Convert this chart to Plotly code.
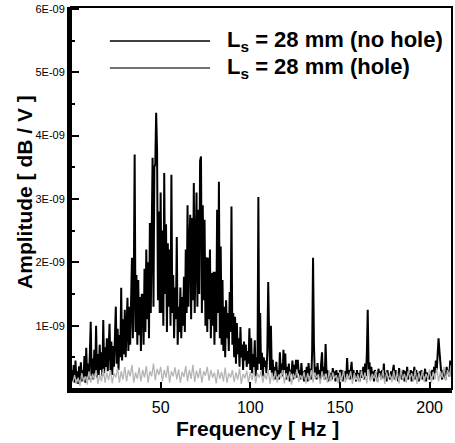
import numpy as np
import plotly.graph_objects as go

# ---------------- data (amplitude in units of 1E-09) ----------------
freq_nohole = np.arange(1, 425) * 0.5  # 0.5 .. 212.0 Hz
amp_nohole = [
    0.30,0.12,0.38,0.10,0.45,0.15,0.28,0.08,0.36,0.14,
    0.42,0.12,0.30,0.18,0.52,0.10,0.65,0.20,0.40,0.15,
    0.55,1.06,0.20,0.48,0.15,0.62,0.25,1.00,0.18,0.55,
    0.22,0.70,0.30,0.58,0.20,1.09,0.25,0.66,0.35,0.80,
    0.28,0.62,1.03,0.30,0.75,0.22,0.68,0.35,0.90,1.30,
    0.40,0.95,0.30,0.85,0.50,1.60,0.45,1.10,0.55,1.25,
    0.50,1.05,1.44,0.60,1.30,0.70,1.50,2.07,0.80,1.55,
    3.70,0.90,1.80,0.70,1.72,0.85,1.45,0.60,1.50,1.48,
    0.70,1.90,0.90,2.20,1.10,2.00,0.80,2.62,1.20,3.00,
    3.65,1.30,3.50,3.55,4.36,3.78,1.40,2.80,1.20,3.10,
    1.20,2.50,1.00,3.41,1.50,2.60,0.90,2.30,1.30,2.20,
    1.00,3.38,1.20,1.80,0.80,1.60,1.10,2.40,0.70,1.30,
    0.90,1.60,0.80,1.45,1.00,1.77,0.90,2.20,1.20,2.90,
    1.30,2.30,2.75,1.10,2.70,1.40,3.25,1.20,2.70,3.10,
    1.30,2.83,1.50,3.60,3.67,1.20,2.90,1.40,2.67,1.00,
    2.08,0.90,2.07,1.10,2.20,0.80,1.83,1.00,1.85,0.70,
    1.85,0.90,2.83,1.20,3.27,0.80,2.25,0.70,1.72,0.60,
    1.30,0.50,1.40,0.80,1.20,0.60,1.53,0.90,2.88,0.70,
    1.20,0.50,1.14,0.40,1.04,0.55,0.80,0.35,0.98,0.50,
    0.70,0.30,0.75,0.45,0.70,0.35,0.60,0.40,0.96,0.30,
    0.80,0.25,0.55,0.35,0.77,0.20,0.50,0.30,3.03,0.40,
    1.20,0.30,0.57,0.20,0.50,0.35,0.45,0.25,0.60,1.69,
    0.85,0.30,1.00,0.25,0.46,0.20,0.35,0.15,0.43,0.20,
    0.30,0.15,0.58,0.25,0.40,0.20,0.62,0.30,0.56,0.15,
    0.35,0.20,0.40,0.12,0.30,0.25,0.45,0.15,0.38,0.20,
    0.46,0.18,0.46,0.25,0.30,0.15,0.41,0.20,0.28,0.12,
    0.30,0.18,0.35,0.12,0.41,0.20,0.32,0.15,0.60,2.07,
    0.70,0.20,0.35,0.15,0.41,0.22,0.30,0.15,0.40,0.58,
    0.20,0.35,0.15,0.71,0.25,0.30,0.12,0.27,0.18,0.25,
    0.15,0.33,0.20,0.28,0.12,0.30,0.18,0.25,0.10,0.30,
    0.20,0.30,0.12,0.25,0.18,0.28,0.15,0.49,0.20,0.30,
    0.15,0.28,0.43,0.15,0.30,0.20,0.25,0.12,0.30,0.18,
    0.25,0.12,0.30,0.18,0.22,0.35,0.15,0.40,0.20,0.55,
    1.25,0.30,0.42,0.15,0.35,0.20,0.28,0.12,0.30,0.20,
    0.25,0.12,0.32,0.20,0.28,0.15,0.30,0.18,0.40,0.15,
    0.25,0.12,0.30,0.18,0.22,0.15,0.28,0.20,0.30,0.38,
    0.15,0.30,0.18,0.25,0.12,0.33,0.20,0.28,0.15,0.25,
    0.30,0.12,0.28,0.20,0.35,0.15,0.25,0.18,0.30,0.12,
    0.28,0.20,0.35,0.15,0.30,0.20,0.25,0.12,0.28,0.18,
    0.30,0.15,0.25,0.20,0.32,0.12,0.26,0.18,0.24,0.15,
    0.28,0.20,0.30,0.15,0.35,0.25,0.45,0.30,0.55,0.80,
    0.60,0.35,0.25,0.15,0.30,0.20,0.28,0.15,0.35,0.25,
    0.30,0.20,0.45,0.30,
]

freq_hole = np.arange(1, 213)  # 1 .. 212 Hz
amp_hole = [
    0.10,0.22,0.08,0.18,0.05,0.25,0.12,0.20,0.07,0.28,
    0.10,0.24,0.15,0.30,0.08,0.22,0.12,0.32,0.10,0.26,
    0.14,0.30,0.09,0.25,0.18,0.33,0.10,0.28,0.15,0.35,
    0.12,0.30,0.20,0.38,0.10,0.26,0.16,0.34,0.12,0.30,
    0.18,0.36,0.10,0.28,0.20,0.40,0.14,0.32,0.22,0.35,
    0.12,0.30,0.18,0.37,0.10,0.28,0.20,0.34,0.15,0.31,
    0.10,0.27,0.19,0.36,0.12,0.30,0.16,0.38,0.11,0.29,
    0.17,0.33,0.10,0.28,0.21,0.35,0.13,0.30,0.18,0.26,
    0.09,0.31,0.16,0.27,0.12,0.34,0.10,0.25,0.18,0.30,
    0.11,0.26,0.15,0.32,0.08,0.24,0.17,0.29,0.10,0.27,
    0.14,0.30,0.09,0.25,0.18,0.28,0.10,0.24,0.15,0.31,
    0.08,0.26,0.13,0.29,0.10,0.23,0.17,0.30,0.09,0.25,
    0.14,0.28,0.07,0.24,0.16,0.31,0.11,0.22,0.15,0.27,
    0.09,0.25,0.13,0.30,0.10,0.26,0.18,0.23,0.08,0.28,
    0.15,0.24,0.10,0.29,0.12,0.26,0.17,0.22,0.09,0.27,
    0.13,0.30,0.10,0.24,0.16,0.28,0.08,0.25,0.14,0.23,
    0.11,0.29,0.15,0.26,0.09,0.31,0.12,0.24,0.17,0.28,
    0.10,0.25,0.14,0.30,0.08,0.26,0.16,0.23,0.11,0.29,
    0.13,0.27,0.09,0.31,0.15,0.24,0.10,0.28,0.17,0.25,
    0.12,0.30,0.08,0.26,0.14,0.29,0.11,0.24,0.16,0.31,
    0.10,0.27,0.15,0.33,0.12,0.28,0.18,0.35,0.13,0.30,
    0.20,0.38,
]

series_names = ["L<sub>s</sub> = 28 mm (no hole)", "L<sub>s</sub> = 28 mm (hole)"]
y_tickvals = [1, 2, 3, 4, 5, 6]
y_ticktext = ["1E-09", "2E-09", "3E-09", "4E-09", "5E-09", "6E-09"]
x_tickvals = [50, 100, 150, 200]

FONT = "Liberation Sans, Arial, Helvetica, sans-serif"

fig = go.Figure()
fig.add_trace(go.Scatter(x=freq_nohole, y=amp_nohole, mode="lines",
                         line=dict(color="black", width=2),
                         name=series_names[0], showlegend=False))
fig.add_trace(go.Scatter(x=freq_hole, y=amp_hole, mode="lines",
                         line=dict(color="#b4b4b4", width=1.3),
                         name=series_names[1], showlegend=False))

# manual legend
leg_y = [0.911, 0.840]
leg_col = ["black", "#444444"]
for i in range(2):
    fig.add_shape(type="line", xref="paper", yref="paper",
                  x0=0.102, x1=0.365, y0=leg_y[i], y1=leg_y[i],
                  line=dict(color=leg_col[i], width=1.5))
    fig.add_annotation(xref="paper", yref="paper", x=0.404, y=leg_y[i],
                       xanchor="left", yanchor="middle", showarrow=False,
                       text="<b>" + series_names[i] + "</b>",
                       font=dict(family=FONT, size=22, color="black"))

# frame (top/right thinner)
fig.add_shape(type="rect", xref="paper", yref="paper", x0=0, x1=1, y0=0, y1=1,
              line=dict(color="black", width=2), layer="above")

# axis titles
fig.add_annotation(xref="paper", yref="paper", x=0.49, y=0, yshift=-39,
                   xanchor="center", yanchor="middle", showarrow=False,
                   text="<b>Frequency [ Hz ]</b>",
                   font=dict(family=FONT, size=21, color="black"))
fig.add_annotation(xref="paper", yref="paper", x=0, xshift=-46, y=0.516,
                   xanchor="center", yanchor="middle", showarrow=False,
                   textangle=-90, text="<b>Amplitude [ dB / V ]</b>",
                   font=dict(family=FONT, size=21, color="black"))

fig.update_layout(
    width=455, height=443,
    margin=dict(l=71, r=3, t=7, b=54),
    paper_bgcolor="white", plot_bgcolor="white",
    showlegend=False,
    xaxis=dict(range=[0, 212.5], tickvals=x_tickvals, ticks="inside",
               ticklen=7, tickwidth=2, tickcolor="black",
               showline=True, linecolor="black", linewidth=4,
               showgrid=False, zeroline=False,
               tickfont=dict(family=FONT, size=16, color="black"),
               ticklabelstandoff=1),
    yaxis=dict(range=[0, 6.03], tickvals=y_tickvals, ticktext=y_ticktext,
               ticks="inside", ticklen=8, tickwidth=2, tickcolor="black",
               minor=dict(dtick=0.5, ticks="inside", ticklen=4, tickwidth=1.5,
                          tickcolor="black", showgrid=False),
               showline=True, linecolor="black", linewidth=4,
               showgrid=False, zeroline=False,
               tickfont=dict(family=FONT, size=11, color="black")),
)

fig.write_html("out.html")
